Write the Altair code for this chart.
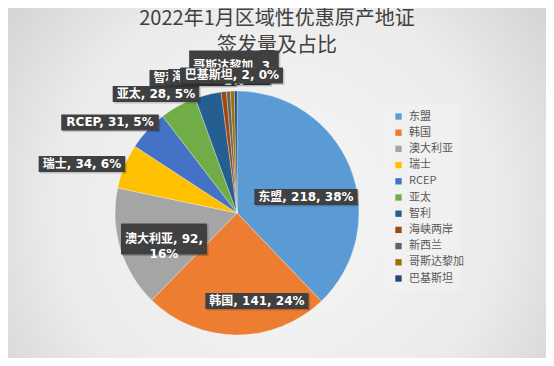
import math
import altair as alt
import pandas as pd

# ---- data ----
categories = ["东盟", "韩国", "澳大利亚", "瑞士", "RCEP", "亚太", "智利",
              "海峡两岸", "新西兰", "哥斯达黎加", "巴基斯坦"]
values = [218, 141, 92, 34, 31, 28, 20, 4, 3, 3, 2]
title_lines = ["2022年1月区域性优惠原产地证", "签发量及占比"]

# ---- style ----
colors = ["#5B9BD5", "#ED7D31", "#A5A5A5", "#FFC000", "#4472C4", "#70AD47",
          "#255E91", "#9E480E", "#636363", "#997300", "#264478"]
W, H = 538, 350
CX, CY, R = 229, 205, 122
# label placement: radius from pie centre and angle nudge (deg) from slice middle
label_radius = [70.8, 90.2, 77.5, 162.6, 156, 144, 142, 137.2, 137.5, 147, 137.6]
label_nudge = [8.8, -13.1, -2.7, -5, -7.3, -5.5, -4.4, -1.2, -0.9, 1.0, -1.5]
label_wrap = [False, False, True, False, False, False, False, False, False, True, False]
LINE_H = 15
BOX_PAD = 4


def char_w(c):
    if ord(c) > 0x2E80:
        return 12.0
    table = {",": 4.56, " ": 4.18, "%": 12.0, "R": 9.24, "C": 8.8, "E": 8.2,
             "P": 8.8, ".": 4.56}
    if c.isdigit():
        return 8.35
    return table.get(c, 8.3)


def text_w(s):
    return sum(char_w(c) for c in s)


total = sum(values)
rows = []
cum = 0
for i, (cat, v) in enumerate(zip(categories, values)):
    mid = (cum + v / 2) / total * 360
    cum += v
    pct = round(v / total * 100)
    if label_wrap[i]:
        lines = [f"{cat}, {v},", f"{pct}%"]
    else:
        lines = [f"{cat}, {v}, {pct}%"]
    a = math.radians(mid + label_nudge[i])
    lx = CX + label_radius[i] * math.sin(a)
    ly = CY - label_radius[i] * math.cos(a)
    bw = max(text_w(s) for s in lines) + 2 * BOX_PAD
    bh = LINE_H * len(lines) + 1
    rows.append(dict(cat=cat, value=v, idx=i, text="\n".join(lines),
                     tx=lx, ty=ly, bx0=lx - bw / 2, bx1=lx + bw / 2,
                     by0=ly - bh / 2, by1=ly + bh / 2,
                     sx0=lx - bw / 2 + 1.5, sx1=lx + bw / 2 + 1.5,
                     sy0=ly - bh / 2 + 1.5, sy1=ly + bh / 2 + 1.5))

df = pd.DataFrame(rows)

bg = alt.Chart(pd.DataFrame({"a": [0]})).mark_rect(
    fill=alt.Gradient(
        gradient="radial",
        stops=[alt.GradientStop(offset=0, color="#f7f7f7"),
               alt.GradientStop(offset=0.55, color="#ebebeb"),
               alt.GradientStop(offset=1, color="#c6c6c6")],
        x1=0.5, y1=0.55, r1=0, x2=0.5, y2=0.55, r2=0.75),
).encode(x=alt.value(-2), x2=alt.value(W + 2), y=alt.value(-2), y2=alt.value(H + 2))

title = alt.Chart(pd.DataFrame({"t": ["\n".join(title_lines)]})).mark_text(
    fontSize=20, font="Noto Sans CJK SC", color="#404040", align="center",
    baseline="top", lineBreak="\n", lineHeight=27
).encode(x=alt.value(W / 2), y=alt.value(1), text="t:N")

legend_box = alt.Chart(pd.DataFrame({"a": [0]})).mark_rect(
    fill="#f2f2f2", opacity=0.55
).encode(x=alt.value(376), x2=alt.value(453), y=alt.value(95), y2=alt.value(283))

pie = alt.Chart(df).mark_arc(outerRadius=R, stroke="#ffffff", strokeWidth=0.3).encode(
    theta=alt.Theta("value:Q", stack=True),
    color=alt.Color("cat:N", scale=alt.Scale(domain=categories, range=colors),
                    sort=categories,
                    legend=alt.Legend(title=None, orient="none", legendX=385, legendY=103,
                                      symbolType="square", symbolSize=40,
                                      symbolStrokeWidth=0, labelFontSize=11,
                                      labelFont="Noto Sans CJK SC", labelColor="#595959",
                                      rowPadding=4.2, padding=0, labelOffset=5)),
    order=alt.Order("idx:Q"),
    x=alt.value(CX), y=alt.value(CY),
)

layers = [bg, title, legend_box, pie]
for cat in categories:
    base = alt.Chart(df).transform_filter(alt.datum.cat == cat)
    shadow = base.mark_rect(color="#000000", opacity=0.18).encode(
        x=alt.X("sx0:Q", scale=None, axis=None), x2="sx1:Q",
        y=alt.Y("sy0:Q", scale=None, axis=None), y2="sy1:Q")
    box = base.mark_rect(color="#404040").encode(
        x=alt.X("bx0:Q", scale=None, axis=None), x2="bx1:Q",
        y=alt.Y("by0:Q", scale=None, axis=None), y2="by1:Q")
    txt = base.mark_text(color="#ffffff", fontSize=12, fontWeight="bold",
                         font="DejaVu Sans, Noto Sans CJK SC", align="center",
                         baseline="middle", lineBreak="\n", lineHeight=LINE_H).encode(
        x=alt.X("tx:Q", scale=None, axis=None),
        y=alt.Y("ty:Q", scale=None, axis=None),
        text="text:N")
    layers += [shadow, box, txt]

chart = alt.layer(*layers).properties(
    width=W, height=H,
    autosize=alt.AutoSizeParams(type="none"),
    padding=0,
).configure_view(stroke=None).configure(background="#e0e0e0")

chart.save("out.html", embed_options={"renderer": "svg", "actions": False})
